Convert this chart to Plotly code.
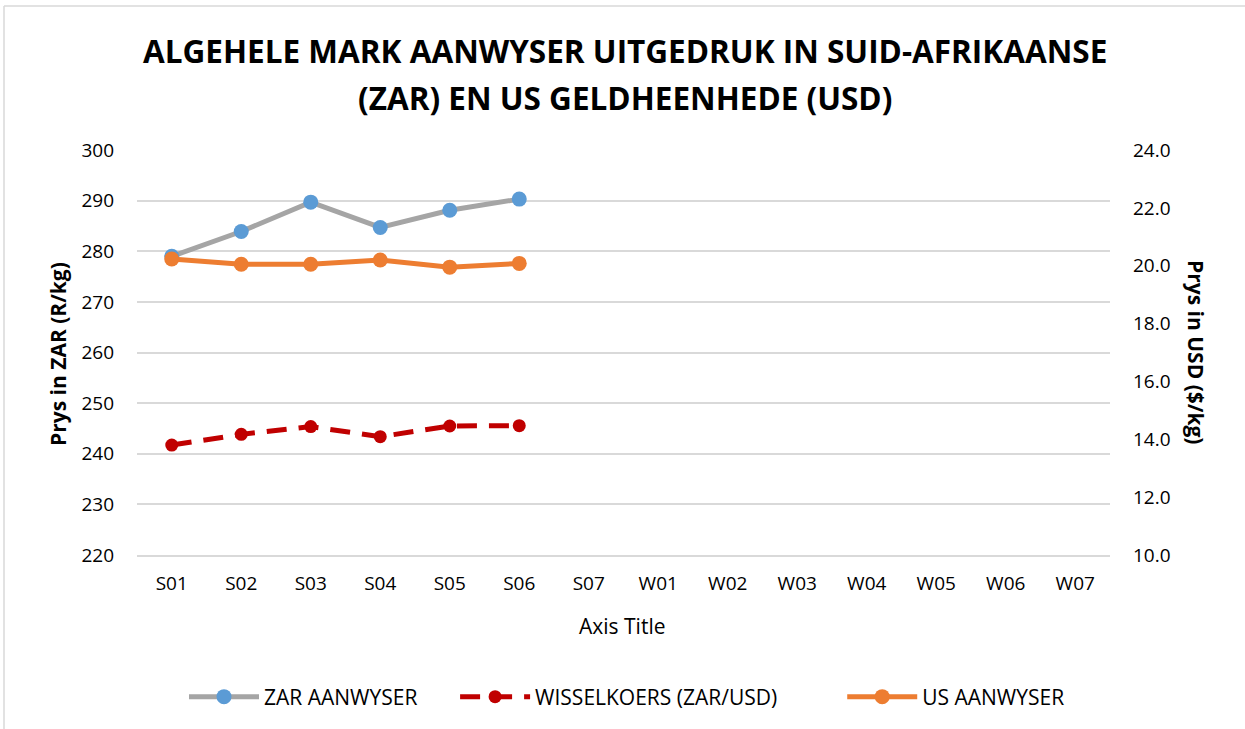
import plotly.graph_objects as go

categories = ["S01", "S02", "S03", "S04", "S05", "S06", "S07",
              "W01", "W02", "W03", "W04", "W05", "W06", "W07"]
zar_aanwyser = [279.0, 283.9, 289.7, 284.7, 288.1, 290.3]
wisselkoers = [13.80, 14.17, 14.44, 14.09, 14.46, 14.47]
us_aanwyser = [20.23, 20.05, 20.05, 20.20, 19.95, 20.08]

left_ticks = [220, 230, 240, 250, 260, 270, 280, 290, 300]
right_ticks = [10, 12, 14, 16, 18, 20, 22, 24]

FONT = "Open Sans"
NB = "\u00a0"
fig = go.Figure()

fig.add_trace(go.Scatter(
    x=categories[:len(zar_aanwyser)], y=zar_aanwyser, name="ZAR AANWYSER" + NB * 6,
    mode="lines+markers", line=dict(color="#A5A5A5", width=5),
    marker=dict(color="#5B9BD5", size=15), yaxis="y"))
fig.add_trace(go.Scatter(
    x=categories[:len(wisselkoers)], y=wisselkoers, name="WISSELKOERS (ZAR/USD)" + NB * 11,
    mode="lines+markers", line=dict(color="#C00000", width=5, dash="20px,12px"),
    marker=dict(color="#C00000", size=13), yaxis="y2"))
fig.add_trace(go.Scatter(
    x=categories[:len(us_aanwyser)], y=us_aanwyser, name="US AANWYSER",
    mode="lines+markers", line=dict(color="#ED7D31", width=5),
    marker=dict(color="#ED7D31", size=15), yaxis="y2"))

PX = lambda x: (x - 137) / 973
PY = lambda y: (555 - y) / 405

fig.update_layout(
    width=1245, height=729,
    margin=dict(l=137, r=135, t=150, b=174),
    paper_bgcolor="white", plot_bgcolor="white",
    font=dict(family=FONT, size=19, color="#000000"),
    showlegend=True,
    legend=dict(orientation="h", x=PX(627), xanchor="center", y=PY(697), yanchor="middle",
                font=dict(size=21, color="#000000"), itemwidth=70,
                traceorder="normal"),
    xaxis=dict(categoryorder="array", categoryarray=categories,
               range=[-0.5, len(categories) - 0.5],
               showgrid=False, showline=True, linecolor="#D9D9D9", linewidth=1.5,
               ticks="", tickfont=dict(size=19, color="#000000"),
               ticklabelstandoff=10),
    yaxis=dict(range=[220, 300], tickvals=left_ticks, showgrid=True,
               gridcolor="#D9D9D9", gridwidth=1.5, zeroline=False, showline=False,
               ticks="", tickfont=dict(size=19, color="#000000"),
               ticklabelstandoff=22),
    yaxis2=dict(range=[10, 24], tickvals=right_ticks, tickformat=".1f",
                overlaying="y", side="right", showgrid=False, zeroline=False,
                showline=False, ticks="", tickfont=dict(size=19, color="#000000"),
                ticklabelstandoff=22),
    annotations=[
        dict(text="<b>ALGEHELE MARK AANWYSER UITGEDRUK IN SUID-AFRIKAANSE</b>",
             xref="paper", yref="paper", x=PX(625), y=PY(50), xanchor="center", yanchor="middle",
             showarrow=False, font=dict(size=31.5, family=FONT, color="#000000")),
        dict(text="<b>(ZAR) EN US GELDHEENHEDE (USD)</b>",
             xref="paper", yref="paper", x=PX(625), y=PY(97), xanchor="center", yanchor="middle",
             showarrow=False, font=dict(size=31.5, family=FONT, color="#000000")),
        dict(text="<b>Prys in ZAR (R/kg)</b>", textangle=-90,
             xref="paper", yref="paper", x=PX(58), y=PY(354),
             xanchor="center", yanchor="middle", showarrow=False,
             font=dict(size=21, family=FONT, color="#000000")),
        dict(text="<b>Prys in USD ($/kg)</b>", textangle=90,
             xref="paper", yref="paper", x=PX(1196), y=PY(352),
             xanchor="center", yanchor="middle", showarrow=False,
             font=dict(size=21, family=FONT, color="#000000")),
        dict(text="Axis Title",
             xref="paper", yref="paper", x=PX(622), y=PY(626),
             xanchor="center", yanchor="middle", showarrow=False,
             font=dict(size=21, family=FONT, color="#000000")),
    ],
    shapes=[
        dict(type="line", xref="paper", yref="paper",
             x0=PX(4), x1=PX(1260), y0=PY(6), y1=PY(6),
             line=dict(color="#D9D9D9", width=1.5)),
        dict(type="line", xref="paper", yref="paper",
             x0=PX(4), x1=PX(4), y0=PY(6), y1=PY(740),
             line=dict(color="#D9D9D9", width=1.5)),
    ],
)

fig.write_html("out.html", config={"displayModeBar": False},
               post_script="document.body.style.margin='0';document.body.style.overflow='hidden';")
